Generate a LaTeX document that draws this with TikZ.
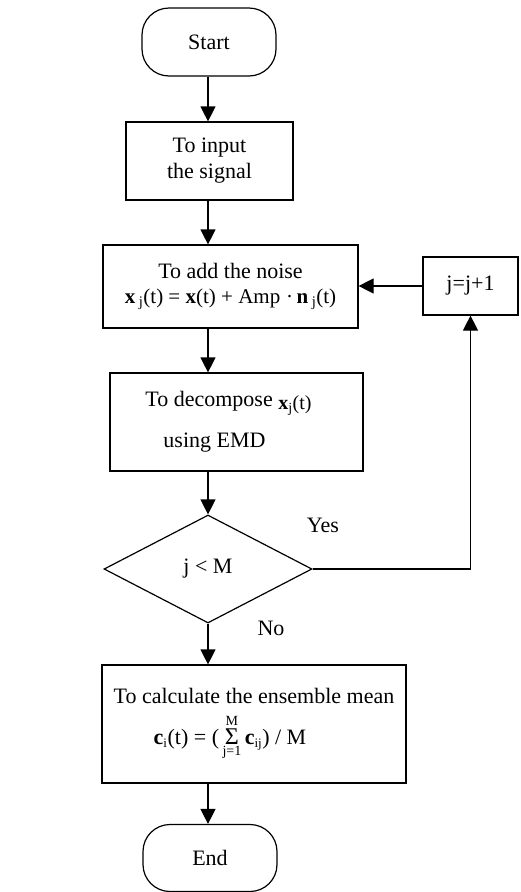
\documentclass[tikz,border=0pt]{standalone}
\usepackage{fontspec}
\setmainfont{Liberation Serif}
\usetikzlibrary{shapes.geometric,arrows.meta}
\begin{document}
\begin{tikzpicture}[x=1pt,y=-1pt,
  base/.style={draw=black, line width=1.2pt, inner sep=0pt, align=center, font=\fontsize{22}{26}\selectfont},
  box/.style={base, rectangle},
  term/.style={base, rectangle, rounded corners=27pt},
  cond/.style={base, diamond},
  arr/.style={line width=1.2pt, -{Triangle[width=15pt,length=15pt]}},
  lbl/.style={font=\fontsize{22}{26}\selectfont, inner sep=0pt}]
\useasboundingbox (0,0) rectangle (520,892);
\coordinate (col) at (208,0);
\node[term, minimum width=134pt, minimum height=68pt] (start) at (209,42) {Start};
\node[box, minimum width=167pt, minimum height=78pt] (input) at (209.5,161) {To input\\the signal};
\node[box, minimum width=255pt, minimum height=83pt] (noise) at (230.5,286.5)
  {To add the noise\\[-1pt]{\fontsize{21}{25}\selectfont\textbf{x}\,\textsubscript{j}(t) = \textbf{x}(t) + Amp\;·\,\textbf{n}\,\textsubscript{j}(t)}};
\node[box, minimum width=95pt, minimum height=58pt] (jinc) at (470.5,286) {j=j+1};
\node[box, minimum width=253pt, minimum height=98pt] (decomp) at (236.5,422)
  {To decompose {\fontsize{20}{20}\selectfont\raisebox{-3pt}{\textbf{x}\textsubscript{j}(t)}}\hspace*{16pt}\\[15pt]using EMD\hspace*{44pt}};
\node[cond, minimum width=208pt, minimum height=108pt] (cond) at (208,569) {j < M};
\node[box, minimum width=304pt, minimum height=118pt] (final) at (254,724)
  {To calculate the ensemble mean\\[10pt]{\fontsize{22}{26}\selectfont$\hbox{\bfseries c}_{\hbox{\fontsize{13}{13}\selectfont i}}\hbox{(t) = (}\mathop{\hbox{\fontsize{24}{24}\selectfont Σ}}\limits^{\raisebox{2pt}{\fontsize{14}{14}\selectfont M}}_{\raisebox{-2pt}{\fontsize{14}{14}\selectfont j=1}}\hbox{\bfseries c}_{\hbox{\fontsize{13}{13}\selectfont ij}}\hbox{) / M}$}\hspace*{48pt}};
\node[term, minimum width=134pt, minimum height=67pt] (endn) at (210,858) {End};
\node[lbl] (yes) at (323,525) {Yes};
\node[lbl] (no) at (271,628) {No};
\draw[arr] (start.south -| col) -- (input.north -| col);
\draw[arr] (input.south -| col) -- (noise.north -| col);
\draw[arr] (noise.south -| col) -- (decomp.north -| col);
\draw[arr] (decomp.south -| col) -- (cond.north);
\draw[arr] (cond.south) -- (final.north -| col);
\draw[arr] (final.south -| col) -- (endn.north -| col);
\draw[arr] (cond.east) -| (jinc.south);
\draw[arr] (jinc.west) -- (noise.east |- jinc.west);
\end{tikzpicture}
\end{document}
